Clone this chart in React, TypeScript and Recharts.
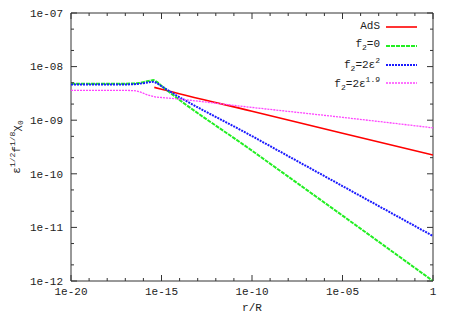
import { LineChart, Line, XAxis, YAxis, ReferenceArea, Legend } from 'recharts';

// r/R values and chi values (log-log)
const adsR = [4e-16, 1e-15, 1e-10, 1e-5, 1];
const adsChi = [4.1e-9, 3.78e-9, 1.47e-9, 5.7e-10, 2.24e-10];

const flatR = [1e-20, 1e-18, 1e-17, 3e-17, 6e-17, 1.2e-16, 2.5e-16, 3.5e-16, 5e-16, 1e-15, 1e-10, 1e-5, 1];
const f0Chi = [4.8e-9, 4.8e-9, 4.8e-9, 4.85e-9, 4.95e-9, 5.2e-9, 5.5e-9, 5.6e-9, 5.3e-9, 4.37e-9, 2.7e-10, 1.66e-11, 1e-12];
const f2Chi = [4.65e-9, 4.65e-9, 4.65e-9, 4.7e-9, 4.8e-9, 4.95e-9, 5.15e-9, 5.2e-9, 5.0e-9, 4.3e-9, 5.05e-10, 5.9e-11, 6.9e-12];

const f19R = [1e-20, 1e-18, 1e-17, 3e-17, 6e-17, 1.2e-16, 2.5e-16, 5e-16, 1e-15, 1e-10, 1e-5, 1];
const f19Chi = [3.6e-9, 3.6e-9, 3.6e-9, 3.55e-9, 3.4e-9, 3.1e-9, 2.85e-9, 2.7e-9, 2.65e-9, 1.73e-9, 1.13e-9, 7.2e-10];

const xTicks = [1e-20, 1e-19, 1e-18, 1e-17, 1e-16, 1e-15, 1e-14, 1e-13, 1e-12, 1e-11, 1e-10,
  1e-9, 1e-8, 1e-7, 1e-6, 1e-5, 1e-4, 1e-3, 1e-2, 1e-1, 1];
const xMajor = [1e-20, 1e-15, 1e-10, 1e-5, 1];
const xLabels = ['1e-20', '1e-15', '1e-10', '1e-05', '1'];

const yMajor = [1e-12, 1e-11, 1e-10, 1e-9, 1e-8, 1e-7];
const yLabels = ['1e-12', '1e-11', '1e-10', '1e-09', '1e-08', '1e-07'];
const yMinor = [2e-12, 5e-12, 2e-11, 5e-11, 2e-10, 5e-10, 2e-9, 5e-9, 2e-8, 5e-8];

const zip = (xs: number[], ys: number[]) => xs.map((x, i) => ({ x, y: ys[i] }));

const FONT = '"Liberation Mono", "DejaVu Sans Mono", monospace';
const TEXT = '#222';
const PLOT_TOP = 13;
const PLOT_RIGHT = 433;

const series = [
  { key: 'ads', name: 'AdS', color: '#ff0000', dash: undefined, width: 1.6, data: zip(adsR, adsChi) },
  { key: 'f0', name: 'f2=0', color: '#22ee22', dash: '4 1', width: 2, data: zip(flatR, f0Chi) },
  { key: 'f2', name: 'f2=2e2', color: '#1a1aff', dash: '2 1', width: 2, data: zip(flatR, f2Chi) },
  { key: 'f19', name: 'f2=2e1.9', color: '#ff44ff', dash: '2 1', width: 1.3, data: zip(f19R, f19Chi) },
];

const same = (a: number, b: number) => Math.abs(Math.log10(a) - Math.log10(b)) < 1e-6;

const XTick = (props: any) => {
  const { x, y, payload } = props;
  const v = payload.value;
  const idx = xMajor.findIndex((m) => same(m, v));
  const len = idx >= 0 ? 6 : 3;
  const bottom = y - 6;
  return (
    <g>
      <line x1={x} x2={x} y1={bottom} y2={bottom - len} stroke="#333" />
      <line x1={x} x2={x} y1={PLOT_TOP} y2={PLOT_TOP + len} stroke="#333" />
      {idx >= 0 && (
        <text x={x} y={y} dy="0.75em" textAnchor="middle" fill={TEXT} fontSize={11} fontFamily={FONT}>
          {xLabels[idx]}
        </text>
      )}
    </g>
  );
};

const YTick = (props: any) => {
  const { x, y, payload } = props;
  const v = payload.value;
  const idx = yMajor.findIndex((m) => same(m, v));
  const len = idx >= 0 ? 6 : 3;
  const left = x + 8;
  return (
    <g>
      <line x1={left} x2={left + len} y1={y} y2={y} stroke="#333" />
      <line x1={PLOT_RIGHT} x2={PLOT_RIGHT - len} y1={y} y2={y} stroke="#333" />
      {idx >= 0 && (
        <text x={x} y={y} dy="0.35em" textAnchor="end" fill={TEXT} fontSize={11} fontFamily={FONT}>
          {yLabels[idx]}
        </text>
      )}
    </g>
  );
};

const small = { fontSize: 8 };

const legendLabel = (name: string) => {
  if (name === 'AdS') return <span>AdS</span>;
  if (name === 'f2=0') return <span>f<sub style={small}>2</sub>=0</span>;
  if (name === 'f2=2e2') return <span>f<sub style={small}>2</sub>=2ε<sup style={small}>2</sup></span>;
  return <span>f<sub style={small}>2</sub>=2ε<sup style={small}>1.9</sup></span>;
};

const LegendBox = () => (
  <div style={{ fontFamily: FONT, fontSize: 11, color: TEXT }}>
    {series.map((s) => (
      <div key={s.key} style={{ height: 18.8, display: 'flex', alignItems: 'center', justifyContent: 'flex-end', lineHeight: '11px' }}>
        {legendLabel(s.name)}
        <svg width={31} height={6} style={{ marginLeft: 6 }}>
          <line x1={0} x2={31} y1={3} y2={3} stroke={s.color} strokeWidth={s.width} strokeDasharray={s.dash} />
        </svg>
      </div>
    ))}
  </div>
);

const YLabel = () => (
  <text transform="translate(20,147) rotate(-90)" textAnchor="middle" fill={TEXT} fontSize={11} fontFamily={FONT}>
    ε<tspan dy={-5} fontSize={8}>1/2</tspan>
    <tspan dy={5}>f</tspan>
    <tspan dy={-5} fontSize={8}>1/8</tspan>
    <tspan dy={5}>χ</tspan>
    <tspan dy={3} fontSize={8}>0</tspan>
  </text>
);

const XLabel = (props: any) => {
  const vb = props.viewBox || { x: 71, y: 281, width: 362 };
  return (
    <text x={vb.x + vb.width / 2} y={vb.y + 30} textAnchor="middle" fill={TEXT} fontSize={11} fontFamily={FONT}>
      r/R
    </text>
  );
};

export default function App() {
  return (
    <div style={{ position: 'absolute', left: 0, top: 0, width: 450, height: 315, background: '#fff' }}>
      <LineChart width={450} height={315} margin={{ top: 13, right: 17, bottom: 0, left: 0 }}>
        <XAxis
          dataKey="x"
          type="number"
          scale="log"
          domain={[1e-20, 1]}
          allowDataOverflow
          ticks={xTicks}
          interval={0}
          height={34}
          tickSize={0}
          tickMargin={6}
          axisLine={false}
          tickLine={false}
          tick={(p: any) => <XTick {...p} />}
          label={{ content: (p: any) => <XLabel {...p} /> }}
        />
        <YAxis
          dataKey="y"
          type="number"
          scale="log"
          domain={[1e-12, 1e-7]}
          allowDataOverflow
          ticks={[...yMajor, ...yMinor]}
          interval={0}
          width={71}
          tickSize={0}
          tickMargin={8}
          axisLine={false}
          tickLine={false}
          tick={(p: any) => <YTick {...p} />}
          label={{ content: () => <YLabel /> }}
        />
        <ReferenceArea x1={1e-20} x2={1} y1={1e-12} y2={1e-7} fill="none" stroke="#333" strokeWidth={1} />
        {series.map((s) => (
          <Line
            key={s.key}
            data={s.data}
            dataKey="y"
            name={s.name}
            type="monotone"
            stroke={s.color}
            strokeWidth={s.width}
            strokeDasharray={s.dash}
            dot={false}
            isAnimationActive={false}
          />
        ))}
        <Legend
          layout="horizontal"
          verticalAlign="middle"
          align="center"
          content={() => <LegendBox />}
          wrapperStyle={{ top: 17.6, right: 33, left: 'auto', width: 'auto', height: 'auto' }}
        />
      </LineChart>
    </div>
  );
}
